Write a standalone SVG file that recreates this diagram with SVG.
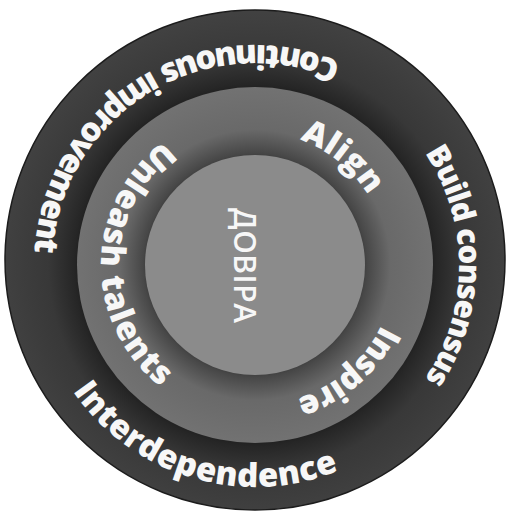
<svg xmlns="http://www.w3.org/2000/svg" width="514" height="513" viewBox="0 0 514 513">
  <style>
    .lbl { font-family: "Open Sans", "Noto Sans", "DejaVu Sans", sans-serif; font-weight: 800; font-size: 33px; fill: #f7f7f7; }
    .lbl-s { font-size: 31px; }
    .core { font-family: "Open Sans", "Noto Sans", "DejaVu Sans", sans-serif; font-weight: 600; font-size: 30px; fill: #f7f7f7; }
  </style>
  <defs>
    <radialGradient id="gOuter" gradientUnits="userSpaceOnUse" cx="255" cy="265" r="252">
      <stop offset="0.69" stop-color="#1e1e1e"/>
      <stop offset="0.72" stop-color="#262626"/>
      <stop offset="0.82" stop-color="#383838"/>
      <stop offset="1" stop-color="#414141"/>
    </radialGradient>
    <radialGradient id="gMiddle" gradientUnits="userSpaceOnUse" cx="255" cy="265" r="178">
      <stop offset="0.6" stop-color="#3a3a3a"/>
      <stop offset="0.63" stop-color="#474747"/>
      <stop offset="0.76" stop-color="#696969"/>
      <stop offset="1" stop-color="#727272"/>
    </radialGradient>
    <path id="pOuterCcw" d="M 476,266 A 221 221 0 1 0 34,266 A 221 221 0 1 0 476,266"/>
    <path id="pOuterCw" d="M 51,266 A 204 204 0 1 1 459,266 A 204 204 0 1 1 51,266"/>
    <path id="pAlign" d="M 122,265 A 133 133 0 1 1 388,265 A 133 133 0 1 1 122,265"/>
    <path id="pInspire" d="M 115,265 A 140 140 0 1 1 395,265 A 140 140 0 1 1 115,265"/>
    <path id="pUnleash" d="M 409,265 A 154 154 0 1 0 101,265 A 154 154 0 1 0 409,265"/>
  </defs>
  <rect x="0" y="0" width="514" height="513" fill="#ffffff"/>

  <g id="outer-ring">
    <circle cx="255" cy="260" r="250" fill="url(#gOuter)" stroke="#1c1c1c" stroke-width="1.5"/>
    <text class="lbl" text-anchor="middle"><textPath href="#pOuterCcw" startOffset="469.4" textLength="422">Continuous improvement</textPath></text>
    <text class="lbl lbl-s" text-anchor="middle"><textPath href="#pOuterCw" startOffset="640.9" textLength="240">Build consensus</textPath></text>
    <text class="lbl" text-anchor="middle"><textPath href="#pOuterCcw" startOffset="977" textLength="300">Interdependence</textPath></text>
  </g>

  <g id="middle-ring">
    <circle cx="255" cy="265" r="178" fill="url(#gMiddle)"/>
    <text class="lbl" text-anchor="middle"><textPath href="#pAlign" startOffset="299.4" textLength="90">Align</textPath></text>
    <text class="lbl" text-anchor="middle"><textPath href="#pInspire" startOffset="559.6" textLength="116">Inspire</textPath></text>
    <text class="lbl" text-anchor="middle"><textPath href="#pUnleash" startOffset="481.9" textLength="285">Unleash talents</textPath></text>
  </g>

  <g id="inner-core">
    <circle cx="255" cy="265" r="110" fill="#8b8b8b"/>
    <text class="core" text-anchor="middle" transform="translate(234,265.5) rotate(90)" textLength="115">ДОВІРА</text>
  </g>
</svg>
